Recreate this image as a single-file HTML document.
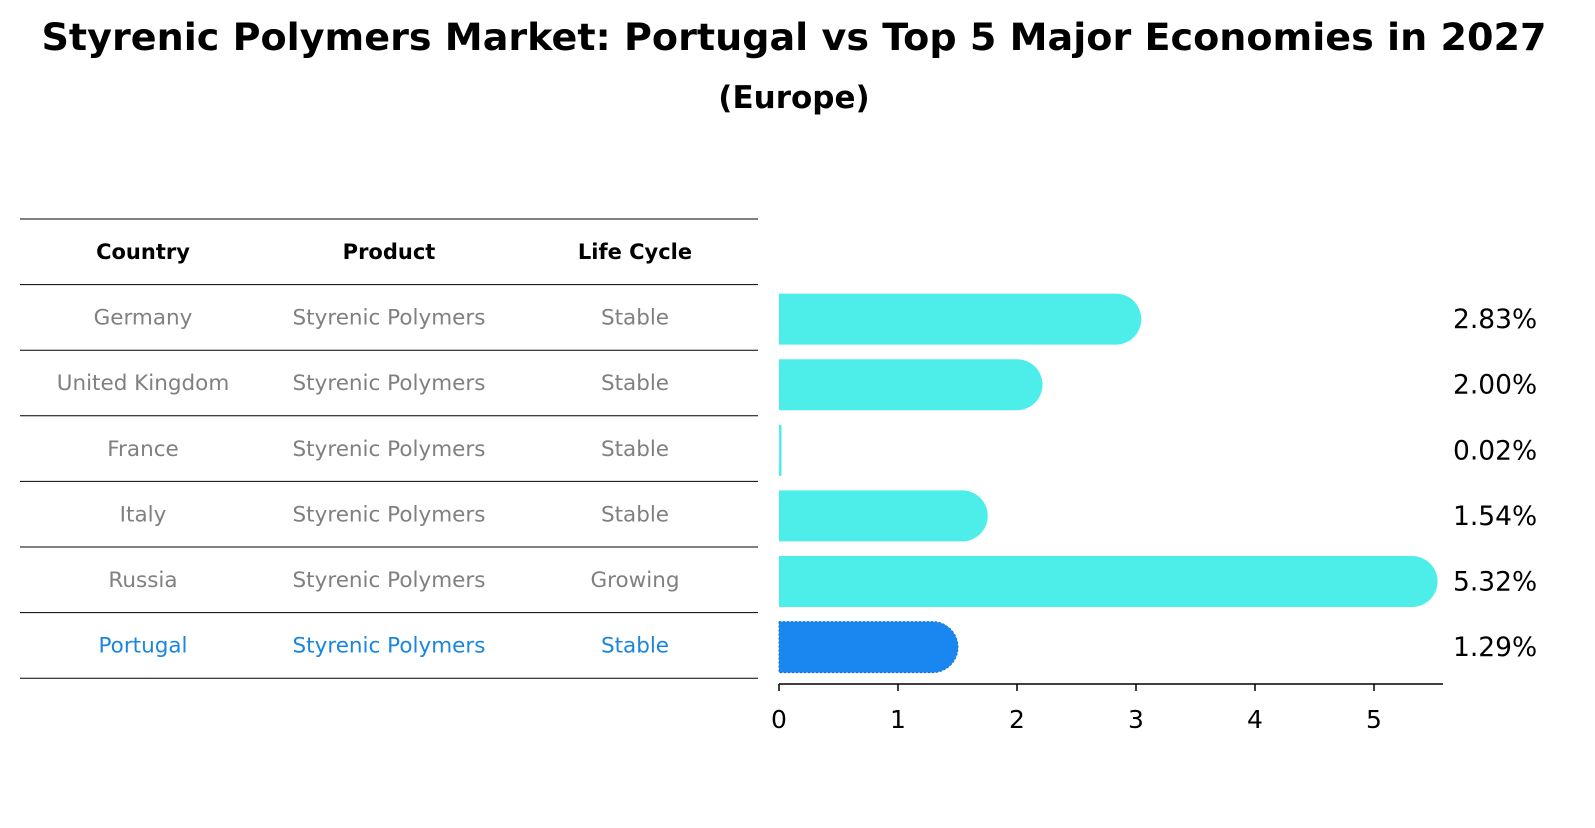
<!DOCTYPE html>
<html><head><meta charset="utf-8"><style>
body{margin:0;background:#fff;width:1595px;height:823px;overflow:hidden;font-family:"Liberation Sans","DejaVu Sans",sans-serif}
</style></head><body>
<svg width="1595" height="823" xmlns="http://www.w3.org/2000/svg" font-family="DejaVu Sans, Liberation Sans, sans-serif">
<text x="794" y="50" text-anchor="middle" font-size="37" font-weight="bold" textLength="1505" lengthAdjust="spacingAndGlyphs">Styrenic Polymers Market: Portugal vs Top 5 Major Economies in 2027</text>
<text x="794" y="108" text-anchor="middle" font-size="31" font-weight="bold">(Europe)</text>
<g id="table"></g>
<g id="bars"></g>
</svg>
<script>
const countries=["Germany","United Kingdom","France","Italy","Russia","Portugal"];
const products=["Styrenic Polymers","Styrenic Polymers","Styrenic Polymers","Styrenic Polymers","Styrenic Polymers","Styrenic Polymers"];
const lifeCycles=["Stable","Stable","Stable","Stable","Growing","Stable"];
const values=[2.83,2.00,0.02,1.54,5.32,1.29];
const xTicks=[0,1,2,3,4,5];
const NS="http://www.w3.org/2000/svg";
function mk(t,a,p){const e=document.createElementNS(NS,t);for(const k in a)e.setAttribute(k,a[k]);p.appendChild(e);return e;}
const tbl=document.getElementById('table'),bg=document.getElementById('bars');
const rowY=i=>219+65.6*i;
for(let i=0;i<=7;i++){const l=mk('line',{x1:20,x2:758,y1:rowY(i),y2:rowY(i),stroke:'#000','stroke-width':1},tbl);

}
const cx=[143,389,635];
["Country","Product","Life Cycle"].forEach((h,j)=>{const t=mk('text',{x:cx[j],y:rowY(0)+40,'text-anchor':'middle','font-size':21,'font-weight':'bold'},tbl);t.textContent=h;

});
const xs=v=>779+119*v;
countries.forEach((c,i)=>{const last=i===countries.length-1;const col=last?'#1a86e0':'#808080';
[c,products[i],lifeCycles[i]].forEach((s,j)=>{const t=mk('text',{x:cx[j],y:rowY(i+1)+40,'text-anchor':'middle','font-size':21.5,fill:col},tbl);t.textContent=s;

});
const yc=rowY(i+1)+34.5,h=51,r=25.5,x0=xs(0),x1=xs(values[i]);
const fill=last?'#1a86f0':'#4deeea';
let d;
if(values[i]<0.1){d=`M${x0},${yc-h/2}h${Math.max(x1-x0,2.5)}v${h}h${-Math.max(x1-x0,2.5)}z`;}
else d=`M${x0},${yc-h/2}H${x1}A${r},${r} 0 0 1 ${x1},${yc+h/2}H${x0}Z`;
const b=mk('path',{d:d,fill:fill},bg);
if(last){b.setAttribute('stroke','#1570d0');b.setAttribute('stroke-dasharray','2,2');}


const lt=mk('text',{x:1453,y:yc+9,'font-size':26.5,fill:'#000'},bg);lt.textContent=values[i].toFixed(2)+'%';


});
const ax=mk('line',{x1:779,x2:1443,y1:684,y2:684,stroke:'#000','stroke-width':1.5},bg);


xTicks.forEach(v=>{const tk=mk('line',{x1:xs(v),x2:xs(v),y1:684,y2:691,stroke:'#000','stroke-width':1.5},bg);


const t=mk('text',{x:xs(v),y:728,'text-anchor':'middle','font-size':25},bg);t.textContent=v;

});
</script>
</body></html>
